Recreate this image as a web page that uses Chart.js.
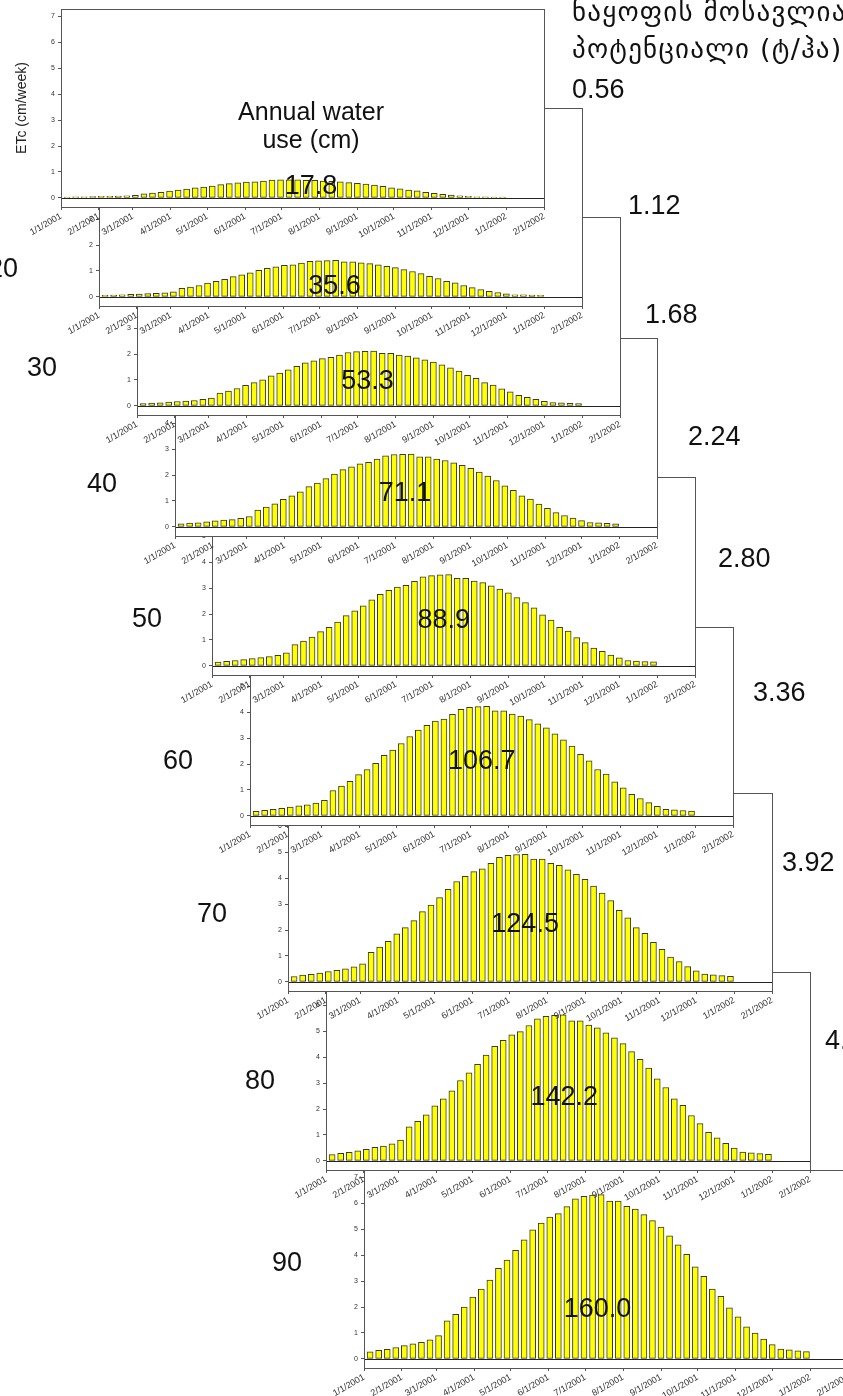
<!DOCTYPE html>
<html>
<head>
<meta charset="utf-8">
<script src="https://cdn.jsdelivr.net/npm/chart.js@4.4.1/dist/chart.umd.min.js"></script>
<style>
  html, body { margin: 0; padding: 0; background: #fff; }
  #page { position: relative; width: 843px; height: 1396px; overflow: hidden; background: #fff;
          font-family: "Liberation Sans", Arial, sans-serif; }
  #page canvas { position: absolute; left: 0; top: 0; }
  .big { position: absolute; font-size: 27px; line-height: 27px; color: #111; white-space: nowrap; z-index: 40; }
  .geo { position: absolute; left: 572px; font-family: "DejaVu Sans", sans-serif; font-size: 27px;
         letter-spacing: 1.2px; line-height: 27px; color: #111; white-space: nowrap; z-index: 40; }
</style>
</head>
<body>
<div id="page"></div>
<script>
// week positions (days after 1/1/2001) and month ticks
const weekDays = [5,12,19,26,33,40,47,54,61,68,75,82,89,96,103,110,117,124,131,138,145,152,159,166,173,180,
  187,194,201,208,215,222,229,236,243,250,257,264,271,278,285,292,299,306,313,320,327,334,341,348,355,362];
const monthDays = [0,31,59,90,120,151,181,212,243,273,304,334,365,396];
const monthLabels = ['1/1/2001','2/1/2001','3/1/2001','4/1/2001','5/1/2001','6/1/2001','7/1/2001',
  '8/1/2001','9/1/2001','10/1/2001','11/1/2001','12/1/2001','1/1/2002','2/1/2002'];
const yTicks = [0,1,2,3,4,5,6,7];

// weekly ETc (cm/week), one series per canopy level
const etc10 = [0.03,0.04,0.04,0.05,0.06,0.06,0.07,0.08,0.10,0.16,0.19,0.22,0.26,0.30,0.34,0.39,0.42,0.46,0.51,0.55,
  0.58,0.61,0.62,0.65,0.69,0.70,0.70,0.70,0.68,0.68,0.65,0.64,0.62,0.59,0.56,0.53,0.49,0.45,0.39,0.35,
  0.30,0.27,0.22,0.18,0.14,0.11,0.08,0.06,0.04,0.04,0.03,0.03];
const etc20 = [0.06,0.07,0.08,0.10,0.11,0.13,0.14,0.16,0.20,0.33,0.38,0.44,0.53,0.60,0.68,0.78,0.85,0.93,1.02,1.10,
  1.16,1.22,1.24,1.30,1.37,1.39,1.40,1.41,1.35,1.35,1.31,1.28,1.24,1.18,1.13,1.05,0.98,0.90,0.79,0.71,
  0.60,0.54,0.44,0.36,0.28,0.22,0.17,0.12,0.08,0.08,0.07,0.06];
const etc30 = [0.09,0.11,0.12,0.15,0.17,0.19,0.21,0.25,0.30,0.49,0.57,0.67,0.79,0.90,1.01,1.16,1.27,1.39,1.53,1.66,
  1.74,1.82,1.87,1.96,2.06,2.09,2.10,2.11,2.03,2.03,1.96,1.92,1.85,1.78,1.69,1.58,1.47,1.34,1.18,1.06,
  0.90,0.80,0.66,0.54,0.41,0.33,0.25,0.18,0.13,0.12,0.10,0.09];
const etc40 = [0.12,0.15,0.16,0.20,0.23,0.26,0.28,0.33,0.40,0.65,0.76,0.89,1.06,1.20,1.35,1.55,1.69,1.86,2.04,2.21,
  2.32,2.43,2.49,2.61,2.74,2.79,2.80,2.81,2.70,2.70,2.61,2.56,2.47,2.37,2.26,2.11,1.96,1.79,1.58,1.41,
  1.20,1.07,0.88,0.72,0.55,0.44,0.34,0.24,0.17,0.16,0.14,0.12];
const etc50 = [0.15,0.18,0.21,0.24,0.28,0.32,0.36,0.41,0.50,0.82,0.96,1.11,1.32,1.49,1.69,1.94,2.12,2.32,2.55,2.76,
  2.91,3.04,3.11,3.26,3.43,3.48,3.51,3.52,3.38,3.38,3.27,3.21,3.09,2.96,2.82,2.63,2.44,2.24,1.97,1.77,
  1.49,1.34,1.09,0.90,0.69,0.56,0.42,0.31,0.21,0.19,0.17,0.16];
const etc60 = [0.18,0.22,0.25,0.29,0.34,0.39,0.43,0.49,0.60,0.98,1.15,1.33,1.59,1.79,2.03,2.33,2.54,2.79,3.06,3.31,
  3.49,3.65,3.73,3.91,4.11,4.18,4.21,4.22,4.05,4.05,3.92,3.85,3.71,3.55,3.39,3.16,2.93,2.69,2.37,2.12,
  1.79,1.61,1.31,1.08,0.83,0.67,0.51,0.37,0.25,0.23,0.21,0.19];
const etc70 = [0.21,0.26,0.29,0.34,0.40,0.45,0.50,0.58,0.70,1.14,1.34,1.56,1.85,2.09,2.36,2.71,2.96,3.25,3.57,3.87,
  4.07,4.25,4.36,4.57,4.80,4.88,4.91,4.92,4.73,4.73,4.57,4.49,4.32,4.15,3.95,3.69,3.42,3.13,2.76,2.47,
  2.09,1.87,1.53,1.26,0.96,0.78,0.59,0.43,0.30,0.27,0.24,0.22];
const etc80 = [0.24,0.29,0.33,0.39,0.45,0.52,0.57,0.66,0.80,1.31,1.53,1.78,2.12,2.39,2.70,3.10,3.39,3.72,4.08,4.42,
  4.65,4.86,4.98,5.22,5.48,5.57,5.61,5.63,5.40,5.40,5.23,5.13,4.94,4.74,4.52,4.21,3.91,3.58,3.16,2.83,
  2.39,2.14,1.75,1.44,1.10,0.89,0.68,0.49,0.34,0.31,0.28,0.25];
const etc90 = [0.27,0.33,0.37,0.44,0.51,0.58,0.64,0.74,0.90,1.47,1.72,2.00,2.38,2.69,3.04,3.49,3.81,4.18,4.59,4.97,
  5.23,5.47,5.60,5.87,6.17,6.27,6.31,6.33,6.08,6.08,5.88,5.77,5.56,5.33,5.08,4.74,4.40,4.03,3.55,3.18,
  2.69,2.41,1.97,1.62,1.24,1.00,0.76,0.55,0.38,0.35,0.31,0.28];
const etcSeries = [etc10, etc20, etc30, etc40, etc50, etc60, etc70, etc80, etc90];

const annualUse = ['17.8','35.6','53.3','71.1','88.9','106.7','124.5','142.2','160.0'];
const canopyLabels = ['20','30','40','50','60','70','80','90'];
const yieldLabels = ['0.56','1.12','1.68','2.24','2.80','3.36','3.92','4.48'];

// layout of the cascaded panels (page pixels)
const CW = 900, CH = 1396;
const panelLeft  = [61, 99, 137, 175, 212, 250, 288, 326, 364];
const panelRight = [544, 582, 620, 657, 695, 733, 772, 810, 848];
const panelZero  = [198, 297, 406, 527, 666, 816, 982, 1161, 1359];
const totalAt    = [[205,0.42],[193,0.40],[189,0.92],[189,1.30],[190,1.73],[190,2.08],[194,2.20],[195,2.46],[191,1.90]];
const canopyPos  = [[-12,268],[27,367],[87,483],[132,618],[163,760],[197,913],[245,1080],[272,1262]];
const yieldPos   = [[572,89],[628,205],[645,314],[688,436],[718,558],[753,692],[782,862],[825,1040]];

Chart.defaults.font.family = '"Liberation Sans", Arial, sans-serif';

const panelFrame = {
  id: 'panelFrame',
  beforeDraw(chart) {
    const a = chart.chartArea, ctx = chart.ctx;
    ctx.save();
    ctx.fillStyle = '#ffffff';
    ctx.fillRect(a.left, a.top, a.right - a.left, a.bottom - a.top);
    ctx.restore();
  },
  afterDatasetsDraw(chart, args, opts) {
    const a = chart.chartArea, ctx = chart.ctx;
    const x = chart.scales.x, y = chart.scales.y;
    const y0 = Math.round(y.getPixelForValue(0)) + 0.5;
    ctx.save();
    ctx.lineWidth = 1;
    ctx.strokeStyle = '#222';
    ctx.beginPath(); ctx.moveTo(a.left, y0); ctx.lineTo(a.right, y0); ctx.stroke();
    ctx.strokeStyle = '#555';
    ctx.strokeRect(Math.round(a.left) + 0.5, Math.round(a.top) + 0.5,
                   Math.round(a.right - a.left), Math.round(a.bottom - a.top));
    ctx.fillStyle = '#111';
    ctx.textAlign = 'center';
    ctx.textBaseline = 'middle';
    if (opts.note) {
      ctx.font = '25px "Liberation Sans", Arial, sans-serif';
      ctx.fillText(opts.note[0], x.getPixelForValue(opts.noteX), y.getPixelForValue(3.28));
      ctx.fillText(opts.note[1], x.getPixelForValue(opts.noteX), y.getPixelForValue(2.2));
    }
    ctx.font = '27px "Liberation Sans", Arial, sans-serif';
    ctx.fillText(opts.total, x.getPixelForValue(opts.tx), y.getPixelForValue(opts.ty));
    ctx.restore();
  }
};

const page = document.getElementById('page');

etcSeries.forEach(function(vals, k) {
  const cv = document.createElement('canvas');
  cv.width = CW; cv.height = CH;
  cv.style.width = CW + 'px'; cv.style.height = CH + 'px';
  cv.style.zIndex = 30 - k;
  page.appendChild(cv);

  const yw = k === 0 ? 51 : 30;
  const xh = 44;
  const top = panelZero[k] - 189;
  const bottom = panelZero[k] + 9;

  let points = [];
  for (let i = 0; i < weekDays.length; i++) {
    points.push({x: weekDays[i], y: vals[i]});
  }

  new Chart(cv.getContext('2d'), {
    type: 'bar',
    data: {
      datasets: [{
        data: points,
        backgroundColor: '#ffff00',
        borderColor: '#3a3a26',
        borderWidth: 1,
        borderSkipped: false,
        barThickness: 6
      }]
    },
    options: {
      responsive: false,
      animation: false,
      events: [],
      layout: {
        padding: {left: panelLeft[k] - yw, top: top, right: CW - panelRight[k], bottom: CH - bottom - xh}
      },
      plugins: {
        legend: {display: false},
        tooltip: {enabled: false},
        panelFrame: {
          total: annualUse[k], tx: totalAt[k][0], ty: totalAt[k][1],
          note: k === 0 ? ['Annual water', 'use (cm)'] : null, noteX: 205
        }
      },
      scales: {
        x: {
          type: 'linear',
          min: 0,
          max: 396,
          offset: false,
          afterBuildTicks: function(scale) { scale.ticks = monthDays.map(v => ({value: v})); },
          afterFit: function(scale) { scale.height = xh; },
          grid: {drawOnChartArea: false, offset: false, tickLength: 3, color: '#555'},
          border: {display: false},
          ticks: {
            autoSkip: false, minRotation: 30, maxRotation: 30, padding: 1,
            color: '#333', font: {size: 9},
            callback: function(value, index) { return monthLabels[index]; }
          }
        },
        y: {
          min: -0.35,
          max: 7.28,
          afterBuildTicks: function(scale) { scale.ticks = yTicks.map(v => ({value: v})); },
          afterFit: function(scale) { scale.width = yw; },
          grid: {drawOnChartArea: false, tickLength: 3, color: '#555'},
          border: {display: false},
          ticks: {color: '#333', font: {size: 7}, padding: 3},
          title: {
            display: k === 0,
            text: 'ETc (cm/week)',
            color: '#222',
            font: {size: 14}
          }
        }
      }
    },
    plugins: [panelFrame]
  });
});

// side labels
function addText(cls, txt, left, top) {
  const d = document.createElement('div');
  d.className = cls;
  d.textContent = txt;
  d.style.left = left + 'px';
  d.style.top = top + 'px';
  page.appendChild(d);
}
canopyLabels.forEach((t, i) => addText('big', t, canopyPos[i][0], canopyPos[i][1] - 13));
yieldLabels.forEach((t, i) => addText('big', t, yieldPos[i][0], yieldPos[i][1] - 13));
addText('geo', 'ნაყოფის მოსავლიანობის', 572, -2);
addText('geo', 'პოტენციალი (ტ/ჰა)', 572, 35);
</script>
</body>
</html>
